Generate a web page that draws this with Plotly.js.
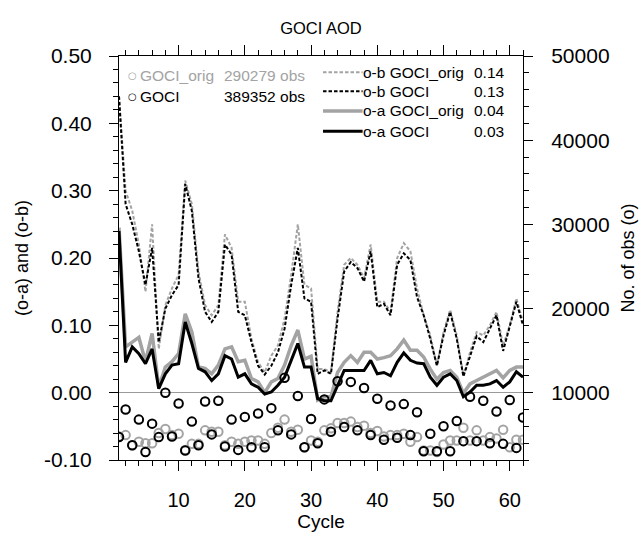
<!DOCTYPE html>
<html>
<head>
<meta charset="utf-8">
<script src="https://cdn.plot.ly/plotly-3.0.1.min.js"></script>
<style>html,body{margin:0;padding:0;background:#fff;}#chart{width:641px;height:536px;}</style>
</head>
<body>
<div id="chart"></div>
<script>
// ---- data ----
const cycles = [1,2,3,4,5,6,7,8,9,10,11,12,13,14,15,16,17,18,19,20,21,22,23,24,25,26,27,28,29,30,31,32,33,34,35,36,37,38,39,40,41,42,43,44,45,46,47,48,49,50,51,52,53,54,55,56,57,58,59,60,61,62];

const obGociOrig = [0.44,0.30,0.27,0.22,0.15,0.25,0.065,0.13,0.155,0.175,0.315,0.28,0.18,0.13,0.115,0.13,0.235,0.215,0.135,0.135,0.08,0.045,0.03,0.055,0.07,0.11,0.175,0.25,0.16,0.155,0.035,0.035,0.03,0.12,0.19,0.20,0.19,0.17,0.22,0.135,0.135,0.12,0.20,0.222,0.21,0.155,0.115,0.085,0.04,0.09,0.123,0.085,0.025,0.06,0.09,0.085,0.10,0.12,0.07,0.10,0.14,0.105];

const obGoci = [0.44,0.28,0.25,0.21,0.16,0.215,0.075,0.125,0.145,0.16,0.31,0.27,0.17,0.12,0.105,0.12,0.22,0.205,0.12,0.115,0.075,0.04,0.027,0.04,0.06,0.095,0.16,0.215,0.14,0.135,0.028,0.033,0.028,0.11,0.18,0.194,0.185,0.165,0.21,0.127,0.132,0.115,0.19,0.207,0.197,0.142,0.115,0.08,0.04,0.085,0.12,0.08,0.024,0.055,0.084,0.075,0.095,0.115,0.062,0.10,0.135,0.10];

const oaGociOrig = [0.245,0.068,0.075,0.082,0.046,0.088,0.008,0.038,0.046,0.058,0.117,0.09,0.038,0.036,0.028,0.041,0.065,0.068,0.046,0.048,0.021,0.016,0.0,0.016,0.021,0.041,0.07,0.093,0.05,0.054,-0.011,-0.006,-0.006,0.03,0.045,0.055,0.045,0.06,0.06,0.05,0.052,0.055,0.065,0.078,0.063,0.063,0.053,0.035,0.02,0.03,0.033,0.023,-0.001,0.013,0.018,0.023,0.028,0.033,0.022,0.033,0.038,0.038];

const oaGoci = [0.24,0.045,0.068,0.058,0.043,0.065,0.006,0.028,0.041,0.043,0.105,0.073,0.036,0.031,0.018,0.028,0.055,0.05,0.023,0.028,0.013,0.008,-0.002,0.001,0.011,0.023,0.048,0.073,0.038,0.038,-0.009,-0.012,-0.012,0.01,0.033,0.033,0.033,0.033,0.048,0.028,0.03,0.025,0.045,0.059,0.048,0.044,0.043,0.023,0.011,0.023,0.028,0.018,-0.006,0.001,0.011,0.011,0.013,0.018,0.008,0.016,0.031,0.023];

const nobsGociOrig = [4800,4960,3760,4160,4000,4000,5200,5680,4960,5120,3200,3920,3920,5520,5360,5360,3760,4160,3920,4160,4320,4320,3920,5200,5840,6800,5360,5600,3520,4320,4160,5520,5760,6400,6400,6560,5920,6080,5200,5440,4800,4960,4960,5120,4160,4720,3120,3120,2960,3840,4320,4320,5840,4320,5520,4320,4720,4560,5600,3520,4400,4400];

const nobsGoci = [4720,8000,3760,6800,2960,6320,4720,10000,4800,8720,3120,6560,3760,8960,5040,9040,3600,6800,3200,7120,3520,7520,3520,8160,5520,11760,5040,9600,3520,6880,4000,9200,5360,11360,5920,11280,5520,10560,4960,9280,4400,8480,4640,8640,4960,7680,3040,5120,3040,6000,3040,6640,4240,9520,4240,9040,4000,7760,3920,9120,3440,7040];

const xTickVals = [10,20,30,40,50,60];
const xTickText = ['10','20','30','40','50','60'];
const yTickVals = [-0.1,0,0.1,0.2,0.3,0.4,0.5];
const yTickText = ['-0.10','0.00','0.10','0.20','0.30','0.40','0.50'];
const y2TickVals = [10000,20000,30000,40000,50000];
const y2TickText = ['10000','20000','30000','40000','50000'];

const obsLegend = [
  {name:'GOCI_orig', total:'290279 obs'},
  {name:'GOCI', total:'389352 obs'}
];
const lineLegend = [
  {name:'o-b GOCI_orig', stat:'0.14'},
  {name:'o-b GOCI', stat:'0.13'},
  {name:'o-a GOCI_orig', stat:'0.04'},
  {name:'o-a GOCI', stat:'0.03'}
];

// ---- styles ----
const GRAY = '#a3a3a3';
const FONT = 'Liberation Sans, Arial, Helvetica, sans-serif';
const DASH = '3.5px,2px';
const lineStyles = [
  {color:GRAY, width:2, dash:DASH},
  {color:'#000', width:2, dash:DASH},
  {color:GRAY, width:3.5, dash:'solid'},
  {color:'#000', width:3, dash:'solid'}
];

// minor tick positions (styling only)
function steps(a, b, d) { const out = []; for (let v = a; v <= b + 1e-9; v += d) out.push(+v.toFixed(6)); return out; }
const xMinor = steps(2, 62, 2);
const yMinor = steps(-0.1, 0.5, 0.02);
const y2Minor = steps(2000, 50000, 2000);

const traces = [
  {x:cycles, y:obGociOrig, type:'scatter', mode:'lines', line:lineStyles[0], yaxis:'y'},
  {x:cycles, y:obGoci, type:'scatter', mode:'lines', line:lineStyles[1], yaxis:'y'},
  {x:cycles, y:oaGociOrig, type:'scatter', mode:'lines', line:lineStyles[2], yaxis:'y'},
  {x:cycles, y:oaGoci, type:'scatter', mode:'lines', line:lineStyles[3], yaxis:'y'},
  {x:cycles, y:nobsGociOrig, type:'scatter', mode:'markers', yaxis:'y2',
   marker:{symbol:'circle-open', size:8.5, color:GRAY, line:{width:2, color:GRAY}}},
  {x:cycles, y:nobsGoci, type:'scatter', mode:'markers', yaxis:'y2',
   marker:{symbol:'circle-open', size:8.5, color:'#000', line:{width:2, color:'#000'}}}
];

// legend in paper coordinates (plot area 404x404)
const annotations = [];
const shapes = [];
const obsRowsY = [0.951, 0.899];
obsLegend.forEach((it, i) => {
  const col = i === 0 ? GRAY : '#000';
  annotations.push({xref:'paper', yref:'paper', x:0.034, y:obsRowsY[i], text:'○', showarrow:false,
    xanchor:'center', yanchor:'middle', font:{family:'DejaVu Sans', size:10, color:col}});
  annotations.push({xref:'paper', yref:'paper', x:0.047, y:obsRowsY[i], text:it.name, showarrow:false,
    xanchor:'left', yanchor:'middle', font:{family:FONT, size:15.5, color:col}});
  annotations.push({xref:'paper', yref:'paper', x:0.256, y:obsRowsY[i], text:it.total, showarrow:false,
    xanchor:'left', yanchor:'middle', font:{family:FONT, size:15.5, color:col}});
});
const lineRowsY = [0.960, 0.913, 0.864, 0.814];
lineLegend.forEach((it, i) => {
  shapes.push({type:'line', xref:'paper', yref:'paper', x0:0.505, x1:0.603, y0:lineRowsY[i], y1:lineRowsY[i],
    line:{color:lineStyles[i].color, width:lineStyles[i].width, dash:lineStyles[i].dash}});
  annotations.push({xref:'paper', yref:'paper', x:0.600, y:lineRowsY[i], text:it.name, showarrow:false,
    xanchor:'left', yanchor:'middle', font:{family:FONT, size:15.5, color:'#000'}});
  annotations.push({xref:'paper', yref:'paper', x:0.873, y:lineRowsY[i], text:it.stat, showarrow:false,
    xanchor:'left', yanchor:'middle', font:{family:FONT, size:15.5, color:'#000'}});
});

const minorStyle = {ticks:'outside', ticklen:5, tickwidth:1, tickcolor:'#000'};

const layout = {
  width:641, height:536,
  margin:{l:119, r:118, t:56, b:76, pad:0},
  paper_bgcolor:'#fff', plot_bgcolor:'#fff',
  showlegend:false,
  font:{family:FONT, color:'#000'},
  title:{text:'GOCI AOD', font:{family:FONT, size:16.5, color:'#000'}, x:0.5, xref:'paper', y:1-28/536, yanchor:'middle'},
  xaxis:{
    range:[1,62], tickmode:'array', tickvals:xTickVals, ticktext:xTickText,
    ticks:'outside', ticklen:10, tickwidth:1, tickcolor:'#000',
    minor:Object.assign({tickmode:'array', tickvals:xMinor}, minorStyle),
    showline:true, linecolor:'#000', linewidth:1, mirror:'ticks',
    showgrid:false, zeroline:false,
    tickfont:{family:FONT, size:20, color:'#000'}, ticklabelstandoff:12,
    title:{text:'Cycle', font:{family:FONT, size:19, color:'#000'}, standoff:2}
  },
  yaxis:{
    range:[-0.1,0.5], tickmode:'array', tickvals:yTickVals, ticktext:yTickText,
    ticks:'outside', ticklen:9, tickwidth:1, tickcolor:'#000',
    minor:Object.assign({tickmode:'array', tickvals:yMinor}, minorStyle),
    showline:true, linecolor:'#000', linewidth:1, mirror:false,
    showgrid:false, zeroline:true, zerolinecolor:'#9a9a9a', zerolinewidth:1,
    tickfont:{family:FONT, size:21, color:'#000'}, ticklabelstandoff:13,
    title:{text:'(o-a) and (o-b)', font:{family:FONT, size:18, color:'#000'}, standoff:10}
  },
  yaxis2:{
    overlaying:'y', side:'right', range:[2000,50000],
    tickmode:'array', tickvals:y2TickVals, ticktext:y2TickText,
    ticks:'outside', ticklen:9, tickwidth:1, tickcolor:'#000',
    minor:Object.assign({tickmode:'array', tickvals:y2Minor}, minorStyle),
    showline:true, linecolor:'#000', linewidth:1,
    showgrid:false, zeroline:false,
    tickfont:{family:FONT, size:21, color:'#000'}, ticklabelstandoff:14,
    title:{text:'No. of obs (o)', font:{family:FONT, size:18, color:'#000'}, standoff:12}
  },
  annotations:annotations,
  shapes:shapes
};

Plotly.newPlot('chart', traces, layout, {displayModeBar:false, staticPlot:true});
</script>
</body>
</html>
